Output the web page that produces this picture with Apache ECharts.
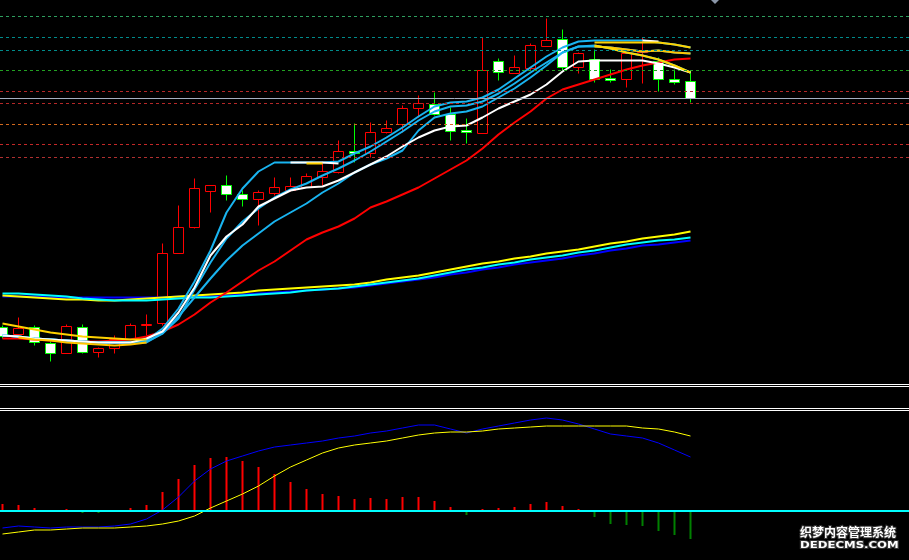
<!DOCTYPE html>
<html><head><meta charset="utf-8">
<script src="https://cdn.jsdelivr.net/npm/echarts@6/dist/echarts.min.js"></script>
<style>html,body{margin:0;padding:0;background:#000}#c{width:909px;height:560px}</style>
</head><body><div id="c"></div>
<script>
// ---- data (prices) ----
const periods = [0,1,2,3,4,5,6,7,8,9,10,11,12,13,14,15,16,17,18,19,20,21,22,23,24,25,26,27,28,29,30,31,32,33,34,35,36,37,38,39,40,41,42,43];
const open  = [6.73,6.66,6.73,6.57,6.47,6.73,6.48,6.52,6.61,6.75,6.77,7.47,7.73,8.09,8.15,8.06,8.01,8.07,8.10,8.13,8.23,8.28,8.49,8.47,8.68,8.76,8.92,8.96,8.86,8.70,8.67,9.39,9.27,9.32,9.54,9.61,9.33,9.41,9.22,9.21,9.48,9.39,9.21,9.19];
const close = [6.64,6.72,6.58,6.47,6.74,6.48,6.52,6.61,6.75,6.76,7.47,7.73,8.12,8.15,8.06,8.01,8.08,8.13,8.14,8.24,8.29,8.49,8.47,8.68,8.72,8.92,8.97,8.86,8.69,8.68,9.30,9.28,9.33,9.55,9.60,9.33,9.47,9.21,9.20,9.47,9.49,9.21,9.18,9.02];
const low   = [6.62,6.66,6.55,6.39,6.47,6.47,6.43,6.47,6.61,6.65,6.75,7.47,7.72,7.88,8.00,7.94,7.75,8.05,8.09,8.13,8.15,8.27,8.38,8.43,8.67,8.68,8.83,8.85,8.60,8.57,8.67,9.20,9.27,9.30,9.54,9.30,9.27,9.18,9.18,9.13,9.17,9.09,9.16,8.98];
const high  = [6.75,6.83,6.75,6.59,6.76,6.76,6.53,6.65,6.77,6.86,7.57,7.95,8.22,8.15,8.25,8.10,8.10,8.23,8.23,8.27,8.39,8.60,8.77,8.78,8.80,8.95,9.05,9.08,8.93,8.82,9.63,9.42,9.45,9.57,9.82,9.71,9.48,9.51,9.31,9.48,9.63,9.43,9.31,9.30];

const maWhite = [6.65,6.64,6.62,6.61,6.60,6.59,6.58,6.58,6.58,6.62,6.69,6.88,7.13,7.45,7.64,7.76,7.94,8.02,8.10,8.13,8.14,8.20,8.28,8.36,8.44,8.54,8.63,8.70,8.74,8.75,8.83,8.92,8.99,9.06,9.16,9.29,9.39,9.40,9.40,9.40,9.40,9.37,9.33,9.28];
const maCyan1 = [6.65,6.64,6.62,6.61,6.60,6.59,6.58,6.58,6.58,6.60,6.72,6.92,7.19,7.50,7.88,8.12,8.29,8.38,8.38,8.38,8.38,8.39,8.47,8.54,8.63,8.73,8.84,8.94,8.98,8.99,9.03,9.11,9.22,9.33,9.44,9.53,9.59,9.60,9.60,9.60,9.60,9.58,9.56,9.53];
const maCyan2 = [6.65,6.64,6.62,6.61,6.60,6.59,6.58,6.58,6.58,6.59,6.67,6.82,7.11,7.38,7.62,7.79,7.92,8.03,8.11,8.17,8.25,8.32,8.40,8.49,8.59,8.69,8.80,8.89,8.94,8.95,8.99,9.07,9.17,9.28,9.38,9.48,9.54,9.54,9.53,9.51,9.49,9.50,9.48,9.47];
const maCyan3 = [6.65,6.64,6.62,6.61,6.60,6.59,6.58,6.58,6.58,6.58,6.67,6.84,7.03,7.22,7.40,7.55,7.67,7.79,7.88,7.97,8.08,8.17,8.28,8.36,8.42,8.50,8.70,8.83,8.87,8.89,8.94,9.03,9.12,9.23,9.35,9.48,9.54,9.55,9.52,9.48,9.45,9.41,9.35,9.28];
const maRed   = [6.62,6.62,6.61,6.60,6.60,6.59,6.59,6.60,6.61,6.64,6.69,6.76,6.86,6.98,7.08,7.19,7.30,7.39,7.50,7.61,7.68,7.74,7.82,7.93,7.99,8.06,8.13,8.22,8.31,8.40,8.52,8.66,8.78,8.89,9.02,9.11,9.16,9.21,9.26,9.31,9.35,9.38,9.41,9.42];
const _ = null;
const maGold1 = [6.77,6.74,6.71,6.68,6.66,6.64,6.63,6.62,6.61,6.61,_,_,_,_,_,_,_,_,_,8.37,8.37,_,_,_,_,_,_,_,_,_,_,_,_,_,_,_,_,9.58,9.58,9.58,9.58,9.58,9.56,9.53];
const maGold2 = [_,6.63,6.61,6.60,6.58,6.57,6.56,6.55,6.56,6.58,_,_,_,_,_,_,_,_,_,_,_,_,_,_,_,_,_,_,_,_,_,_,_,_,_,_,_,9.54,9.53,9.51,9.49,9.50,9.48,9.47];
const maGold3 = [_,_,_,_,_,_,_,_,_,_,_,_,_,_,_,_,_,_,_,_,_,_,_,_,_,_,_,_,_,_,_,_,_,_,_,_,_,9.55,9.52,9.48,9.45,9.41,9.35,9.28];
const maWhite2 = [_,_,_,_,_,_,_,_,_,_,_,_,_,_,_,_,_,_,8.38,8.38,8.38,8.37,_,_,_,_,_,_,_,_,_,_,_,_,_,_,_,_,_,_,9.60,9.59,_,_];

const longYellow = [7.05,7.04,7.03,7.02,7.01,7.01,7.00,7.00,7.01,7.02,7.03,7.04,7.05,7.06,7.07,7.08,7.10,7.11,7.12,7.13,7.14,7.15,7.16,7.18,7.21,7.23,7.25,7.28,7.31,7.34,7.37,7.39,7.42,7.44,7.47,7.49,7.51,7.54,7.57,7.59,7.62,7.64,7.66,7.69];
const longCyan   = [7.07,7.07,7.06,7.05,7.04,7.02,7.01,7.00,7.00,7.00,7.01,7.02,7.03,7.03,7.04,7.05,7.06,7.07,7.08,7.10,7.11,7.12,7.14,7.16,7.18,7.20,7.22,7.25,7.28,7.31,7.33,7.36,7.38,7.41,7.43,7.45,7.48,7.50,7.53,7.56,7.58,7.60,7.61,7.63];
const longBlue   = [7.04,7.04,7.04,7.03,7.03,7.03,7.03,7.03,7.03,7.03,7.03,7.04,7.04,7.04,7.05,7.06,7.07,7.08,7.09,7.10,7.11,7.12,7.13,7.15,7.17,7.19,7.21,7.23,7.26,7.28,7.31,7.33,7.36,7.38,7.40,7.42,7.45,7.47,7.50,7.52,7.55,7.56,7.58,7.60];

const levelPrices = [9.84, 9.63, 9.50, 9.30, 9.09, 8.97, 8.76, 8.56, 8.43];
const lastPrice = 9.02;
// panel separator positions (double borders between the panes)
const separatorsY = [384.5, 386.5, 408.5, 410.5];

const macdHist = [0.07,0.06,0.03,0,0.02,-0.02,-0.02,0,0.03,0.06,0.19,0.32,0.46,0.53,0.54,0.50,0.44,0.37,0.29,0.22,0.17,0.15,0.12,0.13,0.12,0.14,0.14,0.10,0.04,-0.04,0.02,0.03,0.04,0.07,0.09,0.05,0.02,-0.06,-0.13,-0.14,-0.15,-0.20,-0.24,-0.28];
const macdDif  = [-0.17,-0.15,-0.16,-0.17,-0.16,-0.16,-0.16,-0.15,-0.13,-0.08,0.01,0.14,0.30,0.42,0.50,0.55,0.60,0.64,0.66,0.68,0.70,0.73,0.75,0.78,0.80,0.83,0.86,0.86,0.82,0.78,0.82,0.85,0.88,0.91,0.93,0.91,0.87,0.82,0.77,0.75,0.73,0.68,0.61,0.54];
const macdDea  = [-0.23,-0.21,-0.19,-0.19,-0.18,-0.17,-0.17,-0.17,-0.16,-0.15,-0.13,-0.10,-0.05,0.03,0.10,0.17,0.25,0.35,0.44,0.51,0.58,0.63,0.66,0.68,0.70,0.73,0.76,0.78,0.79,0.79,0.80,0.82,0.83,0.84,0.85,0.85,0.85,0.85,0.85,0.85,0.83,0.82,0.79,0.75];

// ---- styles ----
const levelColors = ['#2e9e5e','#008b8b','#008b8b','#22a022','#b42828','#b42828','#d2691e','#c42828','#b03030'];

const pts = arr => periods.map(i => [i, arr[i] == null ? '-' : arr[i]]);
const line = (arr, color, width, gi) => ({
  type:'line', xAxisIndex: gi||0, yAxisIndex: gi||0, data: pts(arr), symbol:'none', silent:true,
  connectNulls:false, lineStyle:{color, width}, animation:false
});

const X_MIN = -0.15625, X_MAX = 56.65625; // 16 px per period, half-pixel aligned
const hiddenAxis = {show:false, axisLine:{show:false}, axisTick:{show:false}, axisLabel:{show:false}, splitLine:{show:false}, axisPointer:{show:false}};
const chart = echarts.init(document.getElementById('c'), null, {renderer:'canvas'});
chart.setOption({
  backgroundColor:'#000',
  animation:false,
  tooltip:{show:false},
  axisPointer:{show:false},
  grid:[{left:0,right:0,top:0,height:384,show:false},{left:0,right:0,top:410,height:150,show:false}],
  xAxis:[
    Object.assign({type:'value',gridIndex:0,min:X_MIN,max:X_MAX}, hiddenAxis),
    Object.assign({type:'value',gridIndex:1,min:X_MIN,max:X_MAX}, hiddenAxis)
  ],
  yAxis:[
    Object.assign({type:'value',gridIndex:0,min:6.165,max:10.005}, hiddenAxis),
    Object.assign({type:'value',gridIndex:1,min:-0.49,max:1.01}, hiddenAxis)
  ],
  series:[
    {type:'line', data: pts(close), symbol:'none', z:1, silent:true, lineStyle:{opacity:0},
     markLine:{silent:true, symbol:'none', label:{show:false}, animation:false,
       data: levelPrices.map((p,j)=>({yAxis:p, lineStyle:{color:levelColors[j], width:1, type:[3,3]}}))
         .concat([{yAxis:lastPrice, lineStyle:{color:'#a4aebf', width:1, type:'solid'}}])}},
    {type:'candlestick', data: periods.map(i=>[i, open[i], close[i], low[i], high[i]]), barWidth:10, silent:true,
     itemStyle:{color:'#000', color0:'#fff', borderColor:'#ff0000', borderColor0:'#00ff00', borderWidth:1}},
    line(longBlue,'#0000ff',2),
    line(longYellow,'#ffff00',2),
    line(longCyan,'#00ffff',2),
    line(maRed,'#ff0000',2),
    line(maCyan3,'#19b4f0',2),
    line(maCyan2,'#19b4f0',2),
    line(maCyan1,'#19b4f0',2),
    line(maWhite,'#ffffff',2),
    line(maWhite2,'#ffffff',2),
    line(maGold1,'#ffd200',2),
    line(maGold2,'#ffc400',2),
    line(maGold3,'#ffd700',2),
    {type:'bar', xAxisIndex:1, yAxisIndex:1, data: pts(macdHist), barWidth:2, silent:true,
     itemStyle:{color: p => (p.value[1] >= 0 ? '#ff0000' : '#008000')},
     markLine:{silent:true, symbol:'none', label:{show:false}, animation:false,
       data:[{yAxis:0, lineStyle:{color:'#00ffff', width:2, type:'solid'}}]}},
    line(macdDif,'#0000ff',1,1),
    line(macdDea,'#ffff00',1,1)
  ],
  graphic:[
    {type:'group', silent:true, children: separatorsY.map(y => ({type:'rect', shape:{x:0, y:y-0.5, width:909, height:1}, style:{fill:'#ffffff'}}))},
    {type:'polygon', silent:true, shape:{points:[[711,0],[719,0],[715,4]]}, style:{fill:'#8a96a8'}},
    {type:'text', silent:true, x:800, y:526, style:{text:'织梦内容管理系统', font:'bold 12px "Noto Sans CJK SC"', fill:'#fff', stroke:'#333', lineWidth:2, textVerticalAlign:'top'}},
    {type:'text', silent:true, x:800, y:541, scaleX:1.3, style:{text:'DEDECMS.COM', font:'bold 9px "DejaVu Sans"', fill:'#fff', stroke:'#333', lineWidth:2, textVerticalAlign:'top'}}
  ]
});
</script>
</body></html>
